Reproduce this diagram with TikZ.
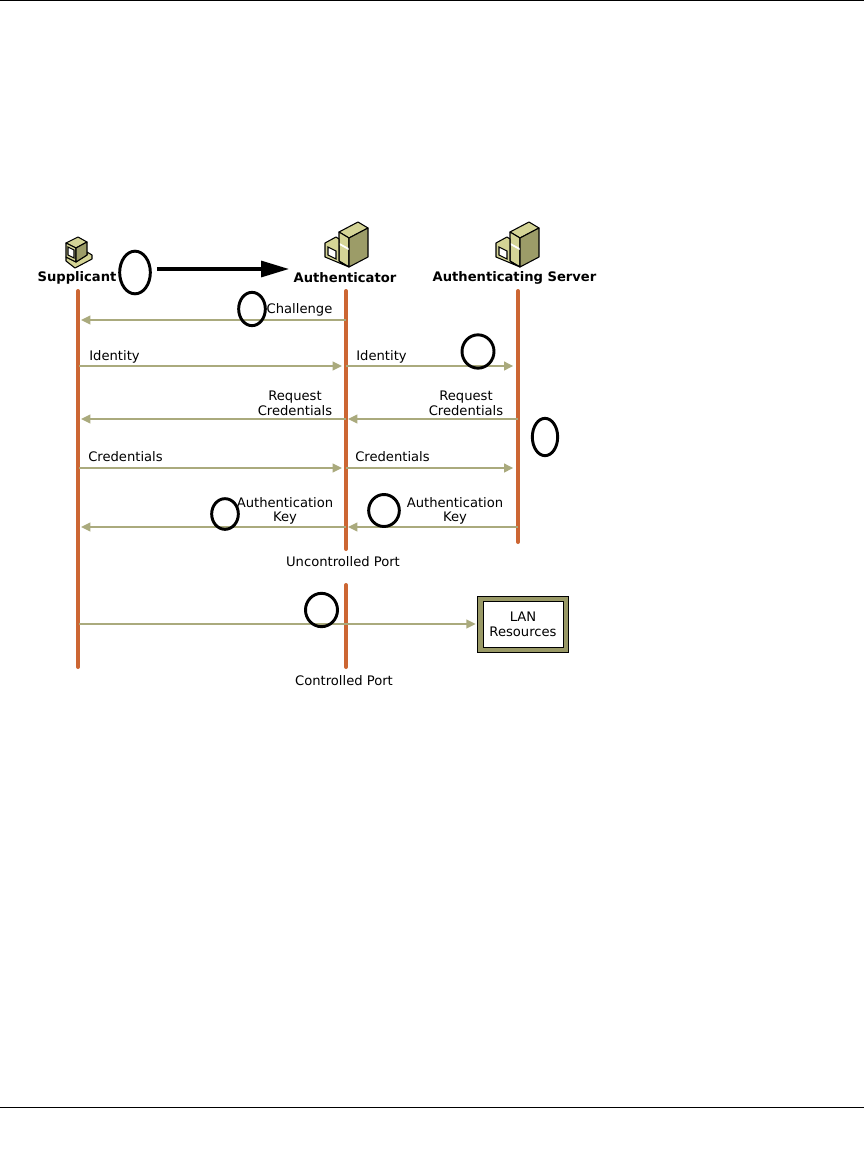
\documentclass[tikz,border=0pt]{standalone}
\usepackage{fontspec}
\setmainfont{DejaVu Sans}
\usepackage{xcolor}
\usetikzlibrary{arrows.meta, positioning, shapes.geometric}
\definecolor{lifeorange}{RGB}{204,102,51}
\definecolor{msgolive}{RGB}{170,170,125}
\definecolor{boxolive}{RGB}{153,153,102}
\definecolor{iconlight}{RGB}{212,212,150}
\definecolor{icondark}{RGB}{156,156,104}
\tikzset{
  pics/servericon/.style={code={
    % tower
    \draw[thick, fill=iconlight, line join=round] (19,14) -- (38,4) -- (48,10) -- (29,20) -- cycle;
    \draw[thick, fill=iconlight, line join=round] (19,14) -- (29,20) -- (29,49) -- (19,43) -- cycle;
    \draw[thick, fill=icondark, line join=round] (29,20) -- (48,10) -- (48,39) -- (29,49) -- cycle;
    \fill[white] (19.5,25) -- (28.5,30) -- (28.5,32) -- (19.5,27) -- cycle;
    % small unit
    \draw[thick, fill=iconlight, line join=round] (5,25) -- (16,19) -- (19,21) -- (19,43) -- (29,49) -- (5,39) -- cycle;
    \draw[thick, fill=white] (8,29) -- (16,33) -- (16,41) -- (8,37) -- cycle;
  }},
  pics/pcicon/.style={code={
    % desktop base
    \draw[thick, fill=iconlight, line join=round] (4,22) -- (4,26) -- (13,33) -- (30,24) -- (30,20) -- (25,17) -- (25,20) -- (14,27) -- cycle;
    % monitor
    \draw[thick, fill=iconlight, line join=round] (4,8) -- (16,2) -- (25,7) -- (14,13) -- cycle;
    \draw[thick, fill=iconlight, line join=round] (4,8) -- (14,13) -- (14,27) -- (4,22) -- cycle;
    \draw[thick, fill=icondark, line join=round] (14,13) -- (25,7) -- (25,20) -- (14,27) -- cycle;
    \draw[thick, fill=white] (6,12) -- (12,15) -- (12,23) -- (6,20) -- cycle;
  }}
}
\begin{document}
\begin{tikzpicture}[
  x=0.75pt, y=-0.75pt,
  every node/.style={font=\fontsize{9.85pt}{11pt}\selectfont, inner sep=0pt, align=center},
  actor/.style={font=\fontsize{9.85pt}{11pt}\selectfont\bfseries},
  life/.style={line width=3pt, lifeorange, line cap=round},
  msg/.style={-{Triangle[length=7pt, width=6.5pt]}, line width=1.5pt, msgolive},
  marker/.style={ellipse, draw, line width=2.2pt, black, minimum width=#1},
  rulebar/.style={line width=0.6pt, black}
]
\useasboundingbox (0,0) rectangle (864,1170);

%--- Page rules ---%
\coordinate (topl) at (0,0.5);
\coordinate (topr) at (864,0.5);
\coordinate (botl) at (0,1107);
\coordinate (botr) at (864,1107);
\draw[rulebar] (topl) -- (topr);
\draw[rulebar] (botl) -- (botr);

%--- Icons and actors ---%
\pic at (62,235) {pcicon};
\pic at (320,218) {servericon};
\pic at (491,218) {servericon};
\node[actor] (supplicant) at (77,277.5) {Supplicant};
\node[actor] (authenticator) at (345,277.5) {Authenticator};
\node[actor] (server) at (514.5,277.5) {Authenticating Server};

%--- Lifelines ---%
\coordinate (suptop) at (78,291);
\coordinate (supbot) at (78,667);
\coordinate (authtop) at (346,291);
\coordinate (authbot) at (346,549);
\coordinate (porttop) at (346,585);
\coordinate (portbot) at (346,667);
\coordinate (servtop) at (518,291);
\coordinate (servbot) at (518,542);
\draw[life] (suptop) -- (supbot);
\draw[life] (authtop) -- (authbot);
\draw[life] (porttop) -- (portbot);
\draw[life] (servtop) -- (servbot);

%--- LAN box ---%
\node[draw=black, fill=boxolive, minimum width=91pt*0.75, minimum height=56pt*0.75, line width=0.6pt] (lanouter) at (523,624) {};
\node[draw=black, fill=white, minimum width=80pt*0.75, minimum height=46pt*0.75, line width=0.6pt] (lan) at (523,624) {LAN\\Resources};

%--- Messages ---%
\foreach \name/\ya in {a/320,b/366,c/419,d/468,e/527,f/624}{
  \coordinate (s\name) at (79,\ya);
  \coordinate (l\name) at (346,\ya);
  \coordinate (r\name) at (518,\ya);
}
\draw[msg] (la) -- ([xshift=1.5pt]sa);
\draw[msg] (sb) -- ([xshift=-3pt]lb);
\draw[msg] (lb) -- ([xshift=-3.5pt]rb);
\draw[msg] (rc) -- ([xshift=1.5pt]lc);
\draw[msg] (lc) -- ([xshift=1.5pt]sc);
\draw[msg] (sd) -- ([xshift=-3pt]ld);
\draw[msg] (ld) -- ([xshift=-3.5pt]rd);
\draw[msg] (re) -- ([xshift=1.5pt]le);
\draw[msg] (le) -- ([xshift=1.5pt]se);
\draw[msg] (sf) -- ([xshift=-1pt]lanouter.west |- sf);

%--- Message labels ---%
\node (challenge) at (299.5,309.5) {Challenge};
\node (identa) at (114.5,356.5) {Identity};
\node (identb) at (381.5,356.5) {Identity};
\node (reqa) at (295,403) {Request\\Credentials};
\node (reqb) at (466,403) {Request\\Credentials};
\node (creda) at (125.5,457) {Credentials};
\node (credb) at (392.5,457) {Credentials};
\node (keya) at (285,511) {Authentication\\Key};
\node (keyb) at (455,511) {Authentication\\Key};
\node (uncontrolled) at (343,561.5) {Uncontrolled Port};
\node (controlled) at (344,680.5) {Controlled Port};

%--- Callout circles ---%
\node[marker=23pt, minimum height=32pt] (one) at (135,272.5) {};
\draw[-{Triangle[length=21pt, width=12pt]}, line width=2.4pt, black] (one.east) ++(5,-3.5) coordinate (bigstart) -- (289,269) coordinate (bigend);
\node[marker=20pt, minimum height=25pt] (two) at (252,309) {};
\node[marker=24pt, minimum height=25pt] (three) at (478,351.5) {};
\node[marker=19pt, minimum height=28pt] (four) at (545,437) {};
\node[marker=20pt, minimum height=23pt] (five) at (225,514) {};
\node[marker=23pt, minimum height=24pt] (six) at (384,510.5) {};
\node[marker=24pt, minimum height=25pt] (seven) at (321.5,610) {};

\end{tikzpicture}
\end{document}
